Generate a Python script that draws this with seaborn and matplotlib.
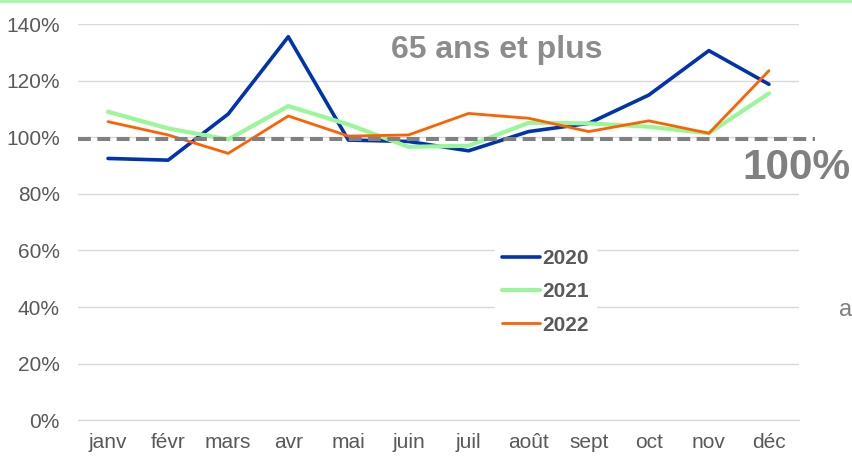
import pandas as pd
import seaborn as sns
import matplotlib.pyplot as plt
from matplotlib.lines import Line2D
from matplotlib.ticker import FixedLocator

# data (in %)
months = ['janv', 'févr', 'mars', 'avr', 'mai', 'juin', 'juil', 'août', 'sept', 'oct', 'nov', 'déc']
v2020 = [92.5, 91.9, 108.2, 135.5, 99.0, 98.5, 95.2, 102.0, 104.9, 114.9, 130.6, 118.7]
v2021 = [109.0, 103.1, 99.2, 111.0, 104.5, 96.6, 97.0, 105.1, 104.9, 103.7, 101.4, 115.5]
v2022 = [105.5, 100.8, 94.3, 107.5, 100.4, 100.8, 108.4, 106.7, 102.0, 105.8, 101.4, 123.5]
years = ['2020', '2021', '2022']
ref_level = 99.3

colors = {'2020': '#0033b0', '2021': '#99f799', '2022': '#ff6000'}
widths = {'2020': 2.6, '2021': 3.0, '2022': 2.0}

df = pd.DataFrame({
    'mois': months * 3,
    'valeur': v2020 + v2021 + v2022,
    'annee': [y for y in years for _ in months],
})

sns.set_style('white')
plt.rcParams['font.family'] = ['Liberation Sans', 'DejaVu Sans']

fig = plt.figure(figsize=(8.53, 4.57), dpi=100)
ax = fig.add_axes([78 / 853, 1 - 420.3 / 457, (799 - 78) / 853, (420.3 - 24) / 457])

sns.lineplot(data=df, x='mois', y='valeur', hue='annee', size='annee',
             palette=colors, sizes=widths, sort=False, ax=ax, zorder=3)

# reference dashed line, runs a bit past the plot area
ax.axhline(ref_level, xmin=0, xmax=(815 - 78) / (799 - 78), color='#808080',
           lw=2.9, dashes=(3.2, 1.6), clip_on=False, zorder=4)

ax.set_xlim(-0.5, len(months) - 0.5)
ax.set_ylim(0, 140)
ax.set_yticks(range(0, 141, 20))
ax.set_yticklabels([f'{v}%' for v in range(0, 141, 20)])
ax.set_xticks(range(len(months)))
ax.set_xticklabels(months)
ax.xaxis.set_minor_locator(FixedLocator([i - 0.5 for i in range(len(months) + 1)]))
ax.tick_params(axis='x', which='major', length=0, pad=9, labelsize=15, labelcolor='#595959')
ax.tick_params(axis='x', which='minor', length=4.5, width=1, color='#d9d9d9', direction='out')
ax.tick_params(axis='y', length=0, pad=13, labelsize=15, labelcolor='#595959')
ax.set_xlabel('')
ax.set_ylabel('')

ax.grid(axis='y', color='#d9d9d9', lw=1.0, zorder=0)
ax.grid(axis='x', visible=False)
for s in ['left', 'right', 'top']:
    ax.spines[s].set_visible(False)
ax.spines['bottom'].set_color('#d9d9d9')
ax.spines['bottom'].set_linewidth(1.0)

handles, labels = ax.get_legend_handles_labels()
leg = ax.legend(handles, labels, loc='upper left', bbox_to_anchor=(495 / 853, 1 - 242 / 457),
                bbox_transform=fig.transFigure, frameon=True, framealpha=1, edgecolor='white',
                handlelength=1.8, handletextpad=0.1, labelspacing=0.68, borderpad=0.35,
                borderaxespad=0, prop={'weight': 'bold', 'size': 15})
for t in leg.get_texts():
    t.set_color('#595959')

fig.text(497 / 853, 1 - 50 / 457, '65 ans et plus', ha='center', va='center',
         fontsize=23, fontweight='bold', color='#8c8c8c')
fig.text(796 / 853, 1 - 168 / 457, '100%', ha='center', va='center',
         fontsize=30.5, fontweight='bold', color='#808080')
fig.text(839 / 853, 1 - 316 / 457, 'a', ha='left', va='baseline',
         fontsize=17, color='#808080')

# thin green rule at the top edge
fig.add_artist(Line2D([0, 1], [1 - 1 / 457, 1 - 1 / 457], transform=fig.transFigure,
                      color='#a6f5a6', lw=2))

plt.savefig('out.png', dpi=100)
